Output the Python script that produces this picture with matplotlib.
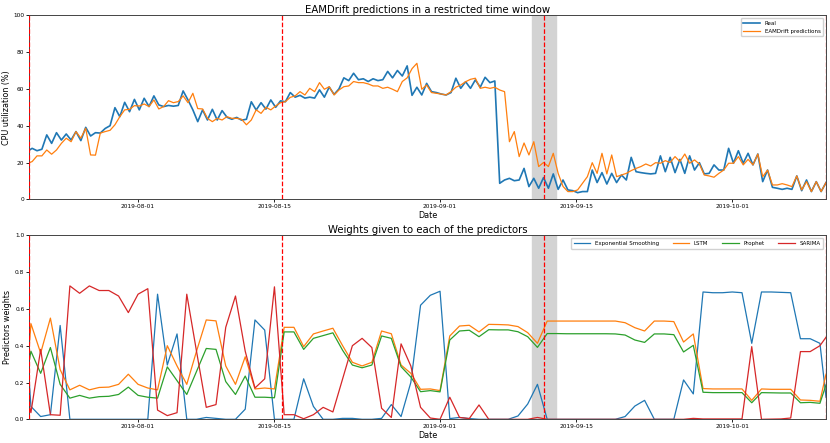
import numpy as np
import pandas as pd
import matplotlib
matplotlib.use("Agg")
import matplotlib.pyplot as plt
import matplotlib.dates as mdates

# CPU utilisation, one value every 12 h starting 2019-07-20 15:00
real = [26, 27.7, 26.4, 27.2, 35, 30.4, 36.2, 32.2, 35.5, 32.2,
        36.8, 31.9, 39.1, 34.4, 36.2, 36, 38.5, 40, 49.8, 44.9,
        52.7, 47.6, 54.3, 48.6, 54.9, 50.4, 56.2, 51.3, 50.4, 51,
        50.6, 51, 58.9, 54, 48.6, 42.2, 48.6, 43.1, 48.9, 43.1,
        48.2, 44.6, 43.5, 44.5, 43, 43.5, 53, 48.5, 52.5, 49,
        54, 50, 53.5, 53, 58, 55.5, 56.5, 55, 55.5, 55,
        59.5, 55.5, 61, 57, 60, 66, 64.5, 68.5, 65, 65.5,
        64, 65.5, 64.5, 65, 69.5, 66, 70, 67, 72.5, 56.5,
        60.9, 56.7, 63, 58.5, 58, 57.2, 56.7, 58, 65.8, 60.3,
        63.9, 60.3, 64.9, 60.9, 66.3, 63.4, 64.3, 8.7, 10.5, 11.4,
        10.1, 10.5, 16.8, 6.9, 11.4, 6, 11.8, 6, 13.8, 5.4,
        10.5, 5.1, 4.7, 3.6, 4.2, 4.2, 15.9, 9.1, 14.5, 8.3,
        14.1, 9.1, 13.2, 10.5, 22.8, 15, 14.5, 14.1, 13.8, 14.1,
        23.6, 15, 22.8, 14.5, 21.7, 14.1, 23.6, 15.9, 19.9, 13.8,
        14.1, 18.7, 15.9, 15.9, 27.7, 19.6, 26.4, 19.6, 25, 18.7,
        24.6, 9.6, 15.9, 6.5, 6, 5.4, 6, 5.4, 12.7, 4.7,
        10.5, 4.2, 9.6, 4.2, 9.1]
pred = [19.5, 20.5, 23.6, 23.6, 26.8, 24.5, 26.8, 30.4, 33.2, 31.3,
        36.8, 33.2, 38.6, 24.1, 24, 36, 36.8, 37.5, 40.5, 44.9,
        48.6, 48.9, 50.9, 50.7, 51.8, 50.4, 54, 49.1, 50.4, 53.6,
        52.5, 53.1, 56.2, 52.5, 57.6, 49.3, 49.1, 44, 42.2, 44,
        43.1, 44.9, 44, 44, 43.5, 40.5, 43.1, 48.6, 46.7, 50,
        48.6, 50.7, 52.5, 53.1, 55.4, 56.2, 58.5, 56.7, 60.3, 58.5,
        63.4, 59.8, 61.2, 56.7, 59.4, 61.2, 61.6, 64, 63.4, 63.4,
        62.7, 61.6, 61.6, 60.3, 60.9, 59.8, 58.5, 64, 66, 71,
        73.9, 59.8, 62.1, 58, 57.6, 57.2, 56.7, 58.5, 60.9, 62.1,
        63.9, 65.2, 65.8, 60.3, 60.9, 60.3, 60.9, 59.4, 58.5, 31.3,
        36.8, 23.2, 30.6, 24.1, 31.3, 17.8, 20, 17.8, 25, 14.1,
        7, 4.2, 4.2, 5.1, 8.7, 12.3, 19.9, 14.1, 25, 13.8,
        24.1, 12.3, 13.2, 14.1, 15.6, 16.8, 17.8, 19.2, 18.1, 19.9,
        19.6, 21, 20, 23.2, 20.5, 24.6, 19.6, 21.4, 19.2, 13.2,
        12.7, 12, 14.1, 15.9, 19.6, 19.6, 23.2, 18.7, 21.7, 18.7,
        24.6, 12.3, 15.9, 7.8, 7.8, 8.5, 7.8, 6.9, 12.7, 5.1,
        9.6, 4.2, 9.6, 4.2, 9.1]

# predictor weights: window start, one per day 2019-07-21 .. 2019-10-10, window end
w_es = [0.2,
        0.07, 0.015, 0.025, 0.51, 0, 0, 0, 0, 0, 0,
        0, 0, 0, 0.68, 0.295, 0.464, 0, 0, 0.01, 0.005,
        0, 0, 0.055, 0.54, 0.485, 0, 0, 0, 0.22, 0.07,
        0, 0, 0.005, 0.005, 0, 0, 0.005, 0.08, 0.015, 0.2,
        0.62, 0.674, 0.696, 0.004, 0.01, 0.004, 0, 0, 0, 0,
        0.018, 0.083, 0.19, 0, 0, 0, 0, 0, 0, 0,
        0, 0.015, 0.072, 0.103, 0, 0, 0, 0.214, 0.138, 0.692,
        0.688, 0.688, 0.692, 0.688, 0.413, 0.692, 0.692, 0.69, 0.688, 0.438,
        0.438, 0.413,
        0.12]
w_lstm = [0.40,
          0.52, 0.36, 0.55, 0.27, 0.16, 0.185, 0.16, 0.173, 0.175, 0.19,
          0.245, 0.19, 0.17, 0.16, 0.40, 0.29, 0.19, 0.37, 0.54, 0.535,
          0.29, 0.19, 0.34, 0.165, 0.17, 0.165, 0.50, 0.50, 0.395, 0.464,
          0.48, 0.495, 0.40, 0.31, 0.29, 0.31, 0.48, 0.465, 0.295, 0.25,
          0.163, 0.165, 0.156, 0.453, 0.507, 0.511, 0.475, 0.516, 0.515, 0.513,
          0.504, 0.471, 0.413, 0.534, 0.534, 0.534, 0.534, 0.534, 0.534, 0.534,
          0.534, 0.525, 0.498, 0.48, 0.534, 0.534, 0.531, 0.42, 0.464, 0.167,
          0.165, 0.165, 0.165, 0.165, 0.103, 0.165, 0.163, 0.163, 0.163, 0.105,
          0.103, 0.098,
          0.246]
w_prophet = [0.32,
             0.37, 0.25, 0.39, 0.19, 0.115, 0.13, 0.115, 0.123, 0.125, 0.135,
             0.175, 0.13, 0.12, 0.115, 0.285, 0.21, 0.135, 0.26, 0.385, 0.38,
             0.205, 0.135, 0.235, 0.12, 0.12, 0.117, 0.475, 0.475, 0.38, 0.44,
             0.455, 0.47, 0.375, 0.295, 0.28, 0.295, 0.453, 0.44, 0.286, 0.23,
             0.15, 0.156, 0.149, 0.431, 0.48, 0.484, 0.449, 0.487, 0.486, 0.486,
             0.476, 0.449, 0.391, 0.466, 0.466, 0.465, 0.465, 0.465, 0.465, 0.465,
             0.464, 0.458, 0.431, 0.418, 0.464, 0.464, 0.46, 0.366, 0.402, 0.147,
             0.145, 0.145, 0.145, 0.145, 0.09, 0.145, 0.144, 0.143, 0.143, 0.09,
             0.092, 0.087,
             0.187]
w_sarima = [0.08,
            0.036, 0.38, 0.025, 0.022, 0.725, 0.685, 0.725, 0.70, 0.70, 0.67,
            0.58, 0.68, 0.71, 0.05, 0.02, 0.036, 0.68, 0.37, 0.065, 0.08,
            0.50, 0.67, 0.37, 0.17, 0.22, 0.72, 0.025, 0.025, 0.003, 0.025,
            0.065, 0.04, 0.22, 0.40, 0.44, 0.39, 0.06, 0.01, 0.41, 0.29,
            0.065, 0.007, 0.0, 0.12, 0.01, 0.004, 0.078, 0.0, 0.0, 0.0,
            0.0, 0.0, 0.01, 0.0, 0.0, 0.0, 0.0, 0.0, 0.0, 0.0,
            0.0, 0.0, 0.0, 0.0, 0.0, 0.0, 0.0, 0.0, 0.005, 0.002,
            0.002, 0.002, 0.002, 0.002, 0.395, 0.0, 0.001, 0.002, 0.007, 0.368,
            0.368, 0.40,
            0.446]

t_start = pd.Timestamp('2019-07-20 20:00')
t_end = pd.Timestamp('2019-10-10 15:00')
cpu_dates = pd.date_range('2019-07-20 15:00', periods=len(real), freq='12h')
w_dates = [t_start] + list(pd.date_range('2019-07-21', '2019-10-10', freq='D')) + [t_end]

drift_lines = [t_start, pd.Timestamp('2019-08-15 18:00'), pd.Timestamp('2019-09-11 16:00'), t_end]
span = (pd.Timestamp('2019-09-10 10:00'), pd.Timestamp('2019-09-12 22:00'))
xticks = pd.to_datetime(['2019-08-01', '2019-08-15', '2019-09-01', '2019-09-15', '2019-10-01'])

fig = plt.figure(figsize=(8.3, 4.43), dpi=100)
ax1 = fig.add_axes([0.0353, 0.5501, 0.9599, 0.4154])
ax2 = fig.add_axes([0.0353, 0.0535, 0.9599, 0.4153])

def decorate(ax):
    ax.axvspan(span[0], span[1], color='lightgray', zorder=0)
    for t in drift_lines:
        ax.axvline(t, color='red', ls='--', lw=0.9, zorder=3)
    ax.set_xlim(t_start, t_end)
    ax.set_xticks(xticks)
    ax.xaxis.set_major_formatter(mdates.DateFormatter('%Y-%m-%d'))
    ax.tick_params(labelsize=4.2, length=2, width=0.6, pad=1.5)
    ax.set_xlabel('Date', fontsize=5.8, labelpad=1)
    for s in ax.spines.values():
        s.set_linewidth(0.7)
        s.set_color('#444444')

ax1.plot(cpu_dates, real, color='#1f77b4', lw=1.2, label='Real')
ax1.plot(cpu_dates, pred, color='#ff7f0e', lw=0.9, label='EAMDrift predictions')
decorate(ax1)
ax1.set_ylim(0, 100)
ax1.set_ylabel('CPU utilization (%)', fontsize=5.8, labelpad=2)
ax1.set_title('EAMDrift predictions in a restricted time window', fontsize=7.3, pad=2)
ax1.legend(loc='upper right', fontsize=4, handlelength=3, framealpha=0.9, borderpad=0.5)

ax2.plot(w_dates, w_es, color='#1f77b4', lw=0.9, label='Exponential Smoothing')
ax2.plot(w_dates, w_lstm, color='#ff7f0e', lw=0.9, label='LSTM')
ax2.plot(w_dates, w_prophet, color='#2ca02c', lw=0.9, label='Prophet')
ax2.plot(w_dates, w_sarima, color='#d62728', lw=0.9, label='SARIMA')
decorate(ax2)
ax2.set_ylim(0, 1)
ax2.set_ylabel('Predictors weights', fontsize=5.8, labelpad=2)
ax2.set_title('Weights given to each of the predictors', fontsize=7.3, pad=2)
ax2.legend(loc='upper right', ncol=4, fontsize=4, handlelength=3, columnspacing=2.5,
           framealpha=0.9, borderpad=0.5)

fig.savefig('out.png', dpi=100)
